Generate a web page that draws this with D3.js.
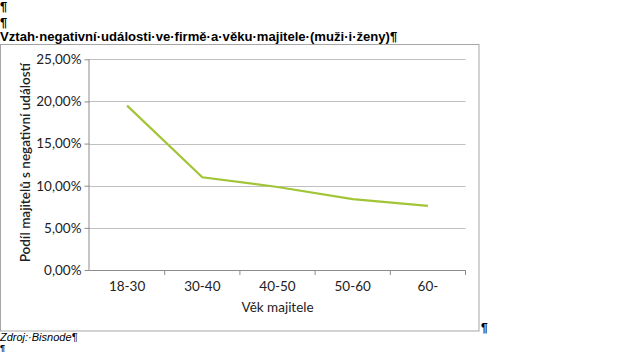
<!DOCTYPE html>
<html><head><meta charset="utf-8">
<script src="https://cdn.jsdelivr.net/npm/d3@7"></script>
<style>body{margin:0;background:#fff;}svg{display:block;}</style>
</head><body>
<svg id="c" width="625" height="352"></svg>
<script>
const categories = ["18-30","30-40","40-50","50-60","60-"];
const values = [0.195, 0.110, 0.0985, 0.084, 0.076];
const yTicks = [0, 0.05, 0.10, 0.15, 0.20, 0.25];
const title = "Vztah·negativní·události·ve·firmě·a·věku·majitele·(muži·i·ženy)¶";
const yTitle = "Podíl majitelů s negativní událostí";
const xTitle = "Věk majitele";
const source = "Zdroj:·Bisnode¶";

const svg = d3.select("#c");
const font = "Lato, 'Open Sans', sans-serif";

// word marks
svg.append("text").attr("x",0).attr("y",11).attr("font-family","Liberation Sans, Arial").attr("font-weight","bold").attr("font-size",13).text("¶");
svg.append("text").attr("x",0).attr("y",27).attr("font-family","Liberation Sans, Arial").attr("font-weight","bold").attr("font-size",13).text("¶");
svg.append("text").attr("x",0).attr("y",41).attr("font-family","Liberation Sans, Arial").attr("font-weight","bold").attr("font-size",13.1).text(title);

// frame
svg.append("rect").attr("x",0.5).attr("y",44.5).attr("width",478.5).attr("height",286.5)
  .attr("fill","none").attr("stroke","#a6a6a6");
svg.append("text").attr("x",481).attr("y",332).attr("font-family","Liberation Sans, Arial").attr("font-weight","bold").attr("font-size",12).text("¶");
svg.append("text").attr("x",0).attr("y",341).attr("font-family","Liberation Sans, Arial").attr("font-style","italic").attr("font-size",11).text(source);
svg.append("text").attr("x",0).attr("y",351).attr("font-family","Liberation Sans, Arial").attr("font-weight","bold").attr("font-size",9).text("¶");

const x0 = 89.5, x1 = 465.5, yTop = 59.3, yBot = 270;
const x = d3.scaleBand().domain(categories).range([x0, x1]);
const y = d3.scaleLinear().domain([0, 0.25]).range([yBot, yTop]);

// gridlines
svg.append("g").selectAll("line").data(yTicks.slice(1)).join("line")
  .attr("x1", x0).attr("x2", x1)
  .attr("y1", d => Math.round(y(d))+0.5).attr("y2", d => Math.round(y(d))+0.5)
  .attr("stroke","#c0c0c0").attr("stroke-width",1);

const fmt = d => d3.format(".2f")(d*100).replace(".", ",") + "%";
const yAxis = svg.append("g").attr("transform",`translate(${x0},0)`)
  .call(d3.axisLeft(y).tickValues(yTicks).tickFormat(fmt).tickSize(5).tickPadding(3));
yAxis.select(".domain").attr("stroke","#8c8c8c").attr("d", `M-0.5,${yTop}V${yBot}`);
yAxis.selectAll(".tick line").attr("stroke","#8c8c8c");
yAxis.selectAll(".tick text").attr("font-family",font).attr("font-size",13.5).attr("fill","#222");

const xAxis = svg.append("g").attr("transform",`translate(0,${Math.round(yBot)+0.5})`)
  .call(d3.axisBottom(x).tickSize(0).tickPadding(11));
xAxis.select(".domain").attr("stroke","#8c8c8c").attr("d",`M${x0},0H${x1}`);
xAxis.selectAll(".tick text").attr("font-family",font).attr("font-size",13.5).attr("fill","#222");
// category boundary ticks
svg.append("g").selectAll("line").data(categories).join("line")
  .attr("x1", d => x(d)+x.bandwidth()).attr("x2", d => x(d)+x.bandwidth())
  .attr("y1", yBot).attr("y2", yBot+5).attr("stroke","#8c8c8c");

// line
svg.append("path").datum(values)
  .attr("d", d3.line().x((d,i)=>x(categories[i])+x.bandwidth()/2).y(d=>y(d)))
  .attr("fill","none").attr("stroke","#a2c437").attr("stroke-width",2.2);

svg.append("text").attr("x",(x0+x1)/2).attr("y",312).attr("text-anchor","middle")
  .attr("font-family",font).attr("font-size",13.5).attr("fill","#222").text(xTitle);
svg.append("text").attr("transform",`translate(30,${(yTop+yBot)/2-2}) rotate(-90)`).attr("text-anchor","middle")
  .attr("font-family",font).attr("font-size",13.5).attr("font-weight",600).attr("fill","#222").text(yTitle);
</script>
</body></html>
